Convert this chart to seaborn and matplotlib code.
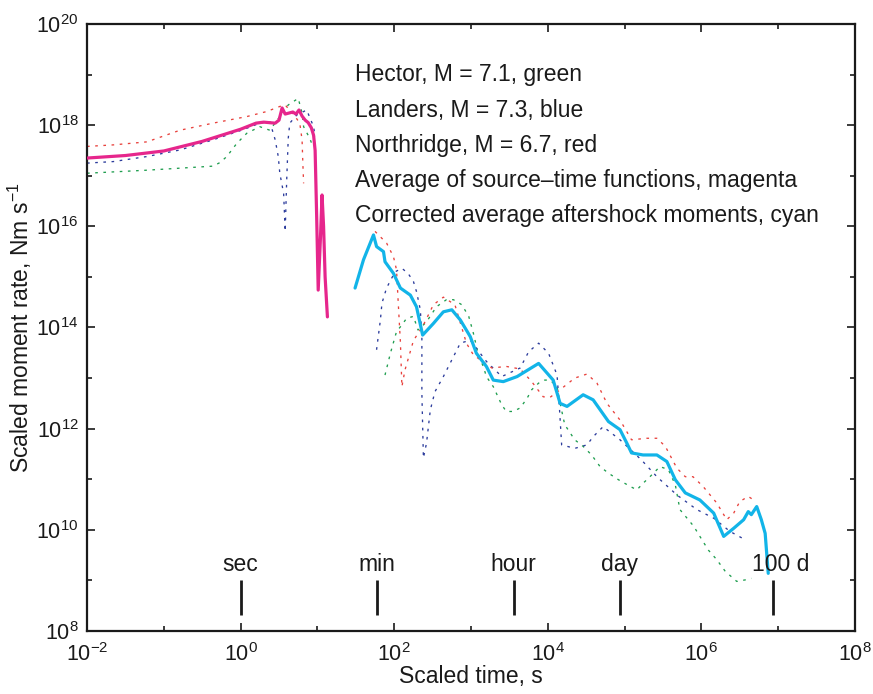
import numpy as np
import pandas as pd
import matplotlib
matplotlib.use("Agg")
import matplotlib.pyplot as plt
import matplotlib.ticker as mticker
import matplotlib.transforms as mtransforms
import seaborn as sns

# ---------------- data (log10 values) ----------------
# Source-time functions (early part)
hector_src_logt = [-2.0, -1.22, -0.36, -0.27, -0.18, -0.05, 0.08, 0.25, 0.38, 0.51, 0.62, 0.75, 0.80, 0.82, 0.90, 0.94]
hector_src_logm = [17.05, 17.11, 17.19, 17.26, 17.38, 17.64, 17.84, 17.97, 17.90, 18.17, 18.40, 18.53, 18.24, 17.97, 17.74, 17.58]

landers_src_logt = [-2.0, -1.66, -1.22, -0.79, -0.36, 0.03, 0.25, 0.38, 0.45, 0.49, 0.51, 0.56, 0.58, 0.60, 0.62, 0.64, 0.73, 0.86, 0.95, 0.97]
landers_src_logm = [17.25, 17.28, 17.38, 17.51, 17.71, 17.91, 18.04, 18.07, 17.71, 17.38, 17.05, 16.65, 15.90, 16.92, 17.74, 18.04, 18.20, 18.30, 17.97, 17.77]

northridge_src_logt = [-2.0, -1.66, -1.22, -0.79, -0.36, 0.08, 0.34, 0.51, 0.58, 0.71, 0.77, 0.80, 0.81, 0.82]
northridge_src_logm = [17.58, 17.61, 17.67, 17.90, 18.04, 18.17, 18.27, 18.37, 18.40, 18.17, 18.04, 17.71, 17.25, 16.85]

average_logt = [-2.0, -1.5, -1.0, -0.5, 0.0, 0.2, 0.3, 0.45, 0.5, 0.54, 0.58, 0.63, 0.68, 0.72, 0.76, 0.80, 0.84, 0.88, 0.92, 0.95, 0.97, 0.99, 1.01, 1.04, 1.06, 1.08, 1.10, 1.13]
average_logm = [17.35, 17.40, 17.49, 17.68, 17.92, 18.04, 18.06, 18.04, 18.10, 18.34, 18.22, 18.24, 18.26, 18.22, 18.30, 18.18, 18.10, 18.05, 17.95, 17.80, 17.50, 16.20, 14.74, 15.80, 16.62, 16.00, 15.00, 14.21]

# Aftershock moment rates (late part)
hector_as_logt = [1.88, 1.95, 2.03, 2.10, 2.16, 2.25, 2.31, 2.42, 2.55, 2.68, 2.77, 2.88, 2.97, 3.03, 3.10, 3.16, 3.20, 3.29, 3.40, 3.46, 3.55, 3.64, 3.73, 3.79, 3.88, 3.96, 4.03, 4.12, 4.16, 4.22, 4.35, 4.46, 4.57, 4.68, 4.79, 4.92, 5.07, 5.16, 5.24, 5.33, 5.46, 5.57, 5.66, 5.72, 5.90, 5.98, 6.09, 6.20, 6.31, 6.46, 6.57, 6.65]
hector_as_logm = [13.06, 13.49, 13.92, 14.05, 14.18, 14.22, 13.95, 14.11, 14.41, 14.55, 14.55, 14.45, 14.22, 13.89, 13.43, 13.23, 13.03, 12.83, 12.47, 12.34, 12.34, 12.41, 12.60, 12.77, 12.90, 12.96, 12.96, 12.83, 12.50, 12.08, 11.78, 11.65, 11.48, 11.25, 11.12, 10.99, 10.86, 10.79, 10.92, 11.05, 11.25, 11.19, 10.89, 10.40, 10.07, 9.87, 9.60, 9.41, 9.18, 8.98, 9.01, 9.04]

landers_as_logt = [1.77, 1.82, 1.84, 1.90, 2.01, 2.10, 2.18, 2.25, 2.29, 2.34, 2.36, 2.36, 2.38, 2.42, 2.47, 2.53, 2.64, 2.77, 2.86, 2.99, 3.20, 3.40, 3.64, 3.75, 3.88, 4.01, 4.12, 4.15, 4.18, 4.35, 4.51, 4.59, 4.72, 4.94, 5.22, 5.42, 5.68, 5.94, 6.16, 6.37, 6.55]
landers_as_logm = [13.56, 14.15, 14.48, 14.78, 15.10, 15.17, 15.07, 14.91, 14.71, 14.35, 13.82, 12.70, 11.42, 11.71, 12.37, 12.73, 13.03, 13.42, 13.69, 13.75, 13.33, 13.03, 13.20, 13.52, 13.69, 13.49, 13.06, 12.44, 11.68, 11.61, 11.68, 11.84, 12.04, 11.78, 11.38, 11.05, 10.69, 10.40, 10.23, 9.97, 9.82]

northridge_as_logt = [1.75, 1.90, 1.99, 2.03, 2.05, 2.08, 2.10, 2.14, 2.25, 2.38, 2.51, 2.64, 2.79, 2.94, 3.03, 3.27, 3.46, 3.64, 3.79, 3.94, 4.03, 4.16, 4.35, 4.51, 4.64, 4.77, 4.94, 5.09, 5.29, 5.42, 5.53, 5.68, 5.79, 5.89, 6.02, 6.20, 6.33, 6.42, 6.50, 6.61, 6.68]
northridge_as_logm = [15.90, 15.67, 15.40, 15.14, 14.55, 13.72, 12.83, 13.16, 13.74, 14.05, 14.45, 14.60, 14.45, 13.69, 13.46, 13.20, 13.23, 13.18, 12.93, 12.63, 12.62, 12.77, 13.00, 13.08, 12.90, 12.50, 12.17, 11.78, 11.81, 11.81, 11.65, 11.22, 11.05, 11.05, 10.86, 10.53, 10.20, 10.33, 10.56, 10.66, 10.59]

corrected_logt = [1.49, 1.60, 1.73, 1.77, 1.86, 1.88, 1.99, 2.08, 2.21, 2.29, 2.37, 2.51, 2.64, 2.75, 2.86, 2.99, 3.07, 3.20, 3.29, 3.42, 3.60, 3.88, 4.07, 4.16, 4.25, 4.46, 4.59, 4.79, 4.94, 5.03, 5.09, 5.24, 5.42, 5.55, 5.66, 5.79, 5.98, 6.16, 6.29, 6.42, 6.55, 6.61, 6.65, 6.72, 6.78, 6.83, 6.87]
corrected_logm = [14.78, 15.34, 15.83, 15.60, 15.50, 15.30, 15.07, 14.78, 14.64, 14.41, 13.85, 14.08, 14.31, 14.35, 14.15, 13.82, 13.49, 13.23, 12.96, 12.93, 13.03, 13.29, 12.96, 12.50, 12.44, 12.67, 12.57, 12.14, 11.98, 11.71, 11.52, 11.48, 11.48, 11.35, 10.99, 10.73, 10.59, 10.33, 9.87, 10.03, 10.20, 10.36, 10.30, 10.46, 10.20, 9.93, 9.14]

marker_times = [1, 60, 3600, 86400, 8.64e6]
marker_labels = ["sec", "min", "hour", "day", "100 d"]

legend_texts = [
    "Hector, M = 7.1, green",
    "Landers, M = 7.3, blue",
    "Northridge, M = 6.7, red",
    "Average of source\u2013time functions, magenta",
    "Corrected average aftershock moments, cyan",
]

x_major_exp = [-2, 0, 2, 4, 6, 8]
y_major_exp = [8, 10, 12, 14, 16, 18, 20]

# ---------------- style ----------------
sns.set_style("ticks")
plt.rcParams["font.family"] = ["Liberation Sans", "DejaVu Sans"]
plt.rcParams["mathtext.fontset"] = "custom"
plt.rcParams["mathtext.rm"] = "Liberation Sans"
plt.rcParams["mathtext.it"] = "Liberation Sans:italic"
plt.rcParams["mathtext.bf"] = "Liberation Sans:bold"

FS_TEXT = 16.5
FS_TICK = 15.5
FS_LABEL = 16.5
TXT = "#1a1a1a"
C_RED = "#e8413c"
C_BLUE = "#2c3c9c"
C_GREEN = "#1f9e4f"
C_MAG = "#e6268c"
C_CYAN = "#12b4e8"

fig = plt.figure(figsize=(8.73, 6.94), dpi=100)
ax = fig.add_axes([0.0997, 0.0908, 0.8797, 0.8746])


def frame(logt, logm):
    return pd.DataFrame({"t": np.power(10.0, logt), "m": np.power(10.0, logm)})


dot = (0, (2.0, 4.2))
dotted_series = [
    (hector_src_logt, hector_src_logm, C_GREEN),
    (landers_src_logt, landers_src_logm, C_BLUE),
    (northridge_src_logt, northridge_src_logm, C_RED),
    (hector_as_logt, hector_as_logm, C_GREEN),
    (landers_as_logt, landers_as_logm, C_BLUE),
    (northridge_as_logt, northridge_as_logm, C_RED),
]
for lt, lm, col in dotted_series:
    sns.lineplot(data=frame(lt, lm), x="t", y="m", ax=ax, color=col,
                 linewidth=0.95, linestyle=dot, sort=False, estimator=None,
                 zorder=2)

sns.lineplot(data=frame(average_logt, average_logm), x="t", y="m", ax=ax,
             color=C_MAG, linewidth=2.3, sort=False, estimator=None, zorder=3)
sns.lineplot(data=frame(corrected_logt, corrected_logm), x="t", y="m", ax=ax,
             color=C_CYAN, linewidth=2.3, sort=False, estimator=None, zorder=3)

ax.set_xscale("log")
ax.set_yscale("log")
ax.set_xlim(1e-2, 1e8)
ax.set_ylim(1e8, 1e20)

# time markers
ax.vlines(marker_times, 2.1e8, 1.0e9, colors=TXT, linewidth=2.0, zorder=4)
for t, lab in zip(marker_times, marker_labels):
    dx = 7 if lab == "100 d" else 0
    trans = ax.transData + mtransforms.ScaledTranslation(dx / 100, 0, fig.dpi_scale_trans)
    ax.text(t, 2.05e9, lab, ha="center", va="center", fontsize=FS_TEXT,
            color=TXT, transform=trans)

# legend-like texts
for i, s in enumerate(legend_texts):
    ax.text(0.349, 0.916 - i * 0.0577, s, transform=ax.transAxes,
            ha="left", va="center", fontsize=FS_TEXT, color=TXT)

# ticks
ax.xaxis.set_major_locator(mticker.FixedLocator([10.0 ** e for e in x_major_exp]))
ax.xaxis.set_minor_locator(mticker.FixedLocator([10.0 ** e for e in range(-1, 8, 2)]))
ax.yaxis.set_major_locator(mticker.FixedLocator([10.0 ** e for e in y_major_exp]))
ax.yaxis.set_minor_locator(mticker.FixedLocator([10.0 ** e for e in range(9, 20, 2)]))
ax.xaxis.set_major_formatter(mticker.LogFormatterSciNotation())
ax.yaxis.set_major_formatter(mticker.LogFormatterSciNotation())
ax.xaxis.set_minor_formatter(mticker.NullFormatter())
ax.yaxis.set_minor_formatter(mticker.NullFormatter())
ax.tick_params(which="both", direction="in", top=True, right=True,
               colors=TXT, width=1.2)
ax.tick_params(which="major", length=6, labelsize=FS_TICK)
ax.tick_params(axis="x", which="major", pad=9)
ax.tick_params(axis="y", which="major", pad=6)
ax.tick_params(which="minor", length=3.5)

for sp in ax.spines.values():
    sp.set_visible(True)
    sp.set_linewidth(1.6)
    sp.set_color(TXT)

ax.set_xlabel("Scaled time, s", fontsize=FS_LABEL, color=TXT, labelpad=-1)
ax.set_ylabel("Scaled moment rate, Nm s$^{-1}$", fontsize=FS_LABEL, color=TXT, labelpad=2)

fig.savefig("out.png", dpi=100)
